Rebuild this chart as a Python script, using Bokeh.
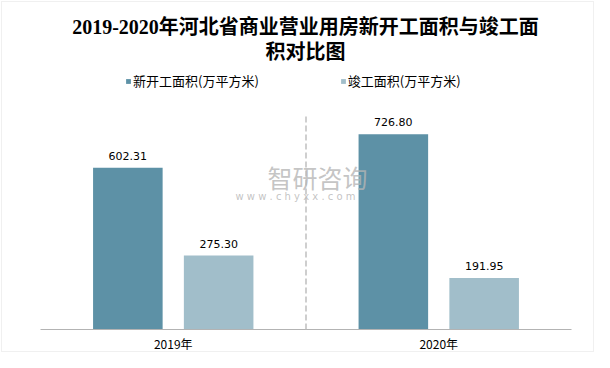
from bokeh.plotting import figure
from bokeh.models import (ColumnDataSource, Range1d, Label, Legend, LegendItem, BoxAnnotation)
from bokeh.transform import dodge
from bokeh.core.properties import value
from bokeh.embed import file_html
from bokeh.resources import INLINE

# ---- data ----
years = ["2019年", "2020年"]
new_start = [602.31, 726.80]
completed = [275.30, 191.95]
series_names = ["新开工面积(万平方米)", "竣工面积(万平方米)"]
title_lines = ["2019-2020年河北省商业营业用房新开工面积与竣工面", "积对比图"]
y_max = 800

# ---- layout constants (pixels) ----
W, H = 594, 352
PLOT_LEFT, PLOT_RIGHT = 40, 571      # category band extent
PLOT_TOP, PLOT_BOTTOM = 114, 329     # value axis extent
cat_px = (PLOT_RIGHT - PLOT_LEFT) / len(years)
ppu = (PLOT_BOTTOM - PLOT_TOP) / y_max

xs = [i + 0.5 for i in range(len(years))]
src = ColumnDataSource(dict(
    x=xs,
    years=years,
    new_start=new_start,
    completed=completed,
    new_lbl=[f"{v:.2f}" for v in new_start],
    comp_lbl=[f"{v:.2f}" for v in completed],
))

DARK = "#5D91A6"
LIGHT = "#A1BECA"
CJK = "Noto Sans CJK SC"

p = figure(width=W, height=H, output_backend="svg", toolbar_location=None,
           x_range=Range1d(-PLOT_LEFT / cat_px, (W - PLOT_LEFT) / cat_px),
           y_range=Range1d(-(H - PLOT_BOTTOM) / ppu, PLOT_BOTTOM / ppu))
p.min_border = 0
p.min_border_left = p.min_border_right = p.min_border_top = p.min_border_bottom = 0
p.outline_line_color = None
p.background_fill_color = "white"
p.border_fill_color = "white"
p.grid.visible = False
p.axis.visible = False

OFF = 0.171
BW = 0.262
r1 = p.vbar(x=dodge("x", -OFF), top="new_start", width=BW, source=src,
            color=DARK, line_color=None)
r2 = p.vbar(x=dodge("x", OFF), top="completed", width=BW, source=src,
            color=LIGHT, line_color=None)

lbl_kw = dict(source=src, text_font=value("DejaVu Sans"), text_font_size="11px",
              text_align="center", text_baseline="bottom", y_offset=-8, text_color="#000000")
p.text(x=dodge("x", -OFF), y="new_start", text="new_lbl", **lbl_kw)
p.text(x=dodge("x", OFF), y="completed", text="comp_lbl", **lbl_kw)

# axis line and category labels
p.segment(x0=[0], x1=[len(years)], y0=[0], y1=[0], line_color="#b3b3b3", line_width=1)
p.text(x="x", y=0, text="years", source=src, text_font=value(CJK), text_font_size="12px",
       text_align="center", text_baseline="middle", y_offset=14, text_color="#000000")

# dashed separators between categories
sep = list(range(1, len(years)))
p.segment(x0=sep, x1=sep, y0=[0] * len(sep), y1=[y_max] * len(sep),
          line_color="#bfbfbf", line_width=1.5, line_dash="6 3")

# watermark
p.add_layout(Label(x=267, y=H - 176, x_units="screen", y_units="screen", text="智研咨询",
                   text_font=CJK, text_font_size="25px", text_color="#b5b5b5",
                   text_alpha=0.8, text_baseline="middle"))
p.add_layout(Label(x=235, y=H - 196, x_units="screen", y_units="screen",
                   text="w w w . c h y x x . c o m",
                   text_font="DejaVu Sans", text_font_size="10px", text_color="#b5b5b5",
                   text_alpha=0.8, text_baseline="middle"))

# titles
for txt, yy in zip(title_lines, [26, 51]):
    p.add_layout(Label(x=305, y=H - yy, x_units="screen", y_units="screen", text=txt,
                       text_font="Liberation Serif, Noto Sans CJK SC", text_font_size="20px",
                       text_font_style="bold", text_color="#000000",
                       text_align="center", text_baseline="middle"))

# legend
legend = Legend(items=[LegendItem(label=series_names[0], renderers=[r1]),
                       LegendItem(label=series_names[1], renderers=[r2])],
                orientation="horizontal", location=(125, H - 90),
                label_text_font=CJK, label_text_font_size="13px", label_text_color="#000000",
                glyph_width=6, glyph_height=6, label_standoff=2, spacing=81,
                padding=0, margin=0, label_height=13,
                border_line_color=None, background_fill_alpha=0)
p.add_layout(legend, "center")

# outer border
p.add_layout(BoxAnnotation(left=1, right=W - 1, bottom=1, top=H - 1,
                           left_units="screen", right_units="screen",
                           bottom_units="screen", top_units="screen",
                           fill_alpha=0, line_color="#999999", line_width=1,
                           line_dash="1 1"))

open("out.html", "w").write(file_html(p, INLINE))
